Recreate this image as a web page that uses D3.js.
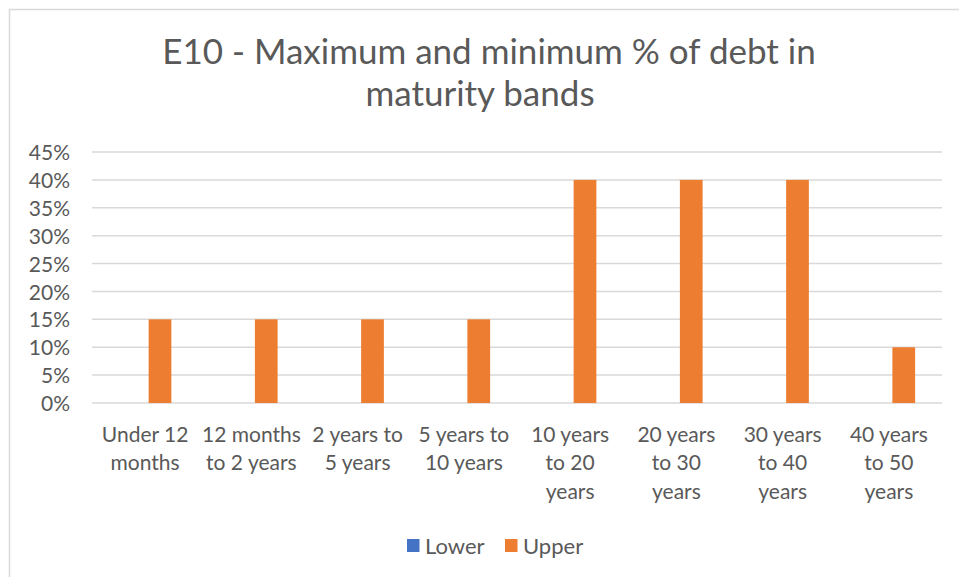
<!DOCTYPE html>
<html>
<head>
<meta charset="utf-8">
<script src="https://cdn.jsdelivr.net/npm/d3@7"></script>
<style>
  html, body { margin: 0; padding: 0; background: #fff; }
  svg { display: block; }
  text { font-family: Lato, "Open Sans", sans-serif; fill: #595959; }
</style>
</head>
<body>
<svg id="chart" width="959" height="577"></svg>
<script>
// Maturity bands (line breaks mark where each label wraps)
const categories = [
  "Under 12\nmonths",
  "12 months\nto 2 years",
  "2 years to\n5 years",
  "5 years to\n10 years",
  "10 years\nto 20\nyears",
  "20 years\nto 30\nyears",
  "30 years\nto 40\nyears",
  "40 years\nto 50\nyears"
];
const seriesNames = ["Lower", "Upper"];
const lowerValues = [0, 0, 0, 0, 0, 0, 0, 0];
const upperValues = [0.15, 0.15, 0.15, 0.15, 0.40, 0.40, 0.40, 0.10];
const yTicks = [0, 0.05, 0.10, 0.15, 0.20, 0.25, 0.30, 0.35, 0.40, 0.45];
const titleLines = ["E10 - Maximum and minimum % of debt in", "maturity bands"];
const colors = { Lower: "#4472C4", Upper: "#ED7D31" };

const svg = d3.select("#chart");

// chart area frame
svg.append("rect")
  .attr("x", 9.5).attr("y", 9.5)
  .attr("width", 980).attr("height", 600)
  .attr("fill", "#fff")
  .attr("stroke", "#D9D9D9").attr("stroke-width", 1.5);

const plot = { left: 92, right: 942, top: 152, bottom: 403 };
const labelSize = 21;

const x = d3.scaleBand()
  .domain(categories)
  .range([plot.left, plot.right])
  .padding(0);

const y = d3.scaleLinear()
  .domain([0, 0.45])
  .range([plot.bottom, plot.top]);

// bar geometry inside each category band
const barW = x.bandwidth() * 0.214;
const seriesGap = x.bandwidth() * 0.066;
const seriesOffset = {
  Lower: x.bandwidth() / 2 - seriesGap / 2 - barW,
  Upper: x.bandwidth() / 2 + seriesGap / 2
};

// value axis labels
const yAxis = d3.axisLeft(y)
  .tickValues(yTicks)
  .tickFormat(d3.format(".0%"))
  .tickSize(0)
  .tickPadding(0);

const gy = svg.append("g").attr("transform", `translate(${plot.left},0)`).call(yAxis);
gy.select(".domain").remove();
gy.selectAll(".tick line").remove();
gy.selectAll(".tick text")
  .attr("x", -22)
  .attr("dy", "0.36em")
  .attr("font-size", labelSize)
  .attr("fill", "#595959")
  .attr("font-family", "Lato, sans-serif");

// gridlines
svg.append("g")
  .selectAll("line")
  .data(yTicks)
  .join("line")
  .attr("x1", plot.left).attr("x2", plot.right)
  .attr("y1", d => y(d)).attr("y2", d => y(d))
  .attr("stroke", "#D9D9D9").attr("stroke-width", 1.5);

// bars
const rows = categories.map((c, i) => ({ cat: c, Lower: lowerValues[i], Upper: upperValues[i] }));
seriesNames.forEach(s => {
  svg.append("g")
    .selectAll("rect")
    .data(rows)
    .join("rect")
    .attr("x", d => x(d.cat) + seriesOffset[s])
    .attr("y", d => y(d[s]))
    .attr("width", barW)
    .attr("height", d => y(0) - y(d[s]))
    .attr("fill", colors[s]);
});

// category labels
const xAxis = d3.axisBottom(x).tickSize(0).tickFormat("");
const gx = svg.append("g").attr("transform", `translate(0,${plot.bottom})`).call(xAxis);
gx.select(".domain").remove();
gx.selectAll(".tick").each(function (d) {
  const t = d3.select(this).append("text")
    .attr("text-anchor", "middle")
    .attr("font-size", labelSize)
    .attr("fill", "#595959");
  d.split("\n").forEach((line, i) => {
    t.append("tspan").attr("x", 0).attr("y", 39 + i * 28.3).text(line);
  });
});

// title
const titleX = [489, 480];
const title = svg.append("text")
  .attr("text-anchor", "middle")
  .attr("font-size", 35)
  .attr("fill", "#595959");
titleLines.forEach((line, i) => {
  title.append("tspan").attr("x", titleX[i]).attr("y", 64 + i * 41.5).text(line);
});

// legend
const legend = svg.append("g").attr("transform", "translate(407,546)");
const items = [{ name: "Lower", x: 0 }, { name: "Upper", x: 98 }];
items.forEach(it => {
  const g = legend.append("g").attr("transform", `translate(${it.x},0)`);
  g.append("rect").attr("x", 0).attr("y", -7).attr("width", 12.5).attr("height", 13).attr("fill", colors[it.name]);
  g.append("text").attr("x", 18).attr("y", 7.5).attr("font-size", 22).text(it.name);
});
</script>
</body>
</html>
